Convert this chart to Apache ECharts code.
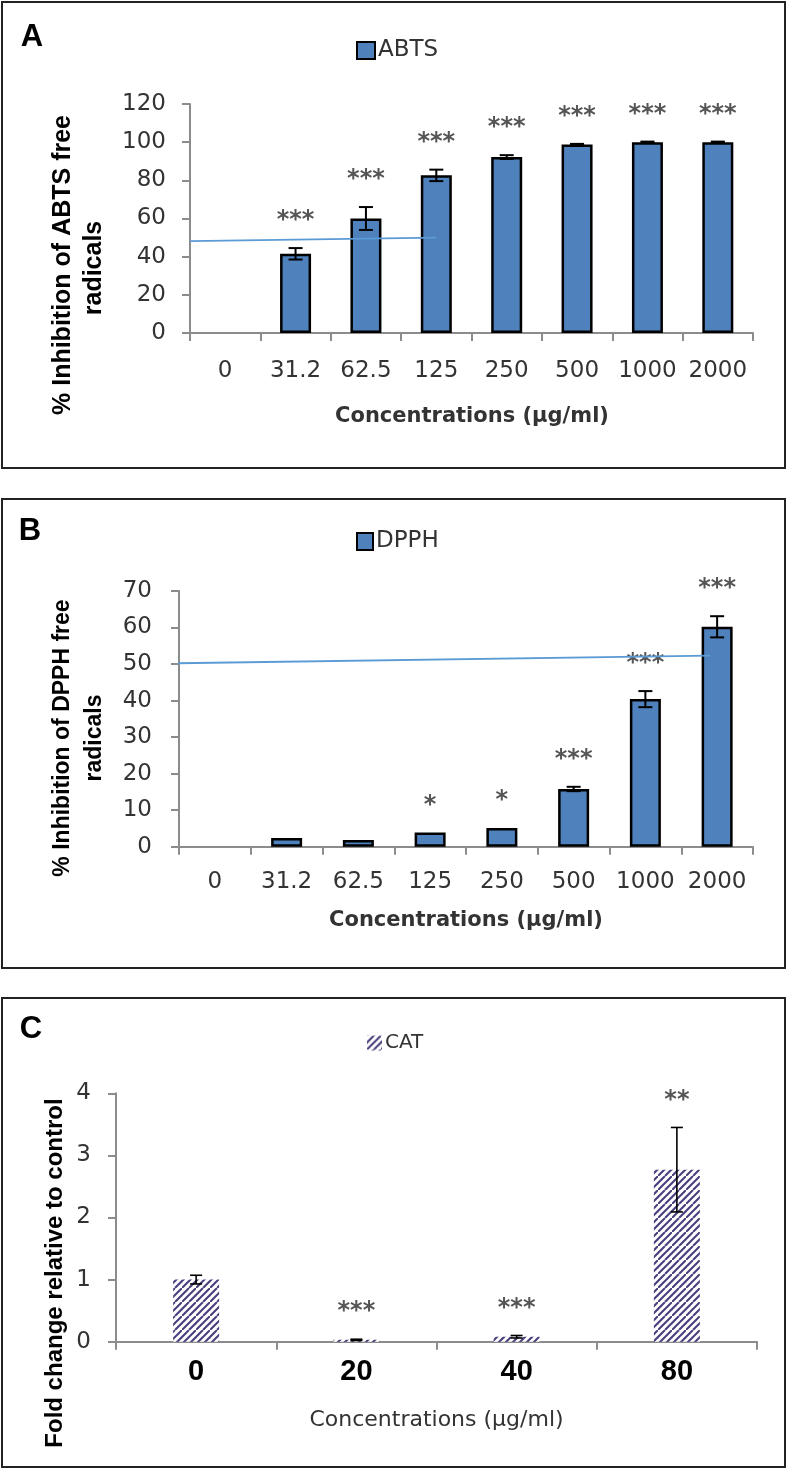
<!DOCTYPE html>
<html>
<head>
<meta charset="utf-8">
<script src="https://cdn.jsdelivr.net/npm/echarts@6/dist/echarts.min.js"></script>
<style>
html,body{margin:0;padding:0;background:#fff;}
#chart{width:788px;height:1469px;}
</style>
</head>
<body>
<div id="chart"></div>
<script>
// ---------- DATA ----------
const abCategories = ['0', '31.2', '62.5', '125', '250', '500', '1000', '2000'];
const abtsMean = [0, 41.5, 60, 82.6, 92.2, 98.8, 100, 100];
const abtsErr  = [0, 3, 6, 3, 1, 0.3, 0.3, 0.3];
const abtsSig  = ['', '***', '***', '***', '***', '***', '***', '***'];
const abtsRefLine = [[0, 48.1], [3.5, 50]];

const dpphMean = [0, 2.4, 1.8, 3.9, 5.1, 15.8, 40.4, 60.2];
const dpphErr  = [0, 0, 0, 0, 0, 0.6, 2.2, 2.9];
const dpphSig  = ['', '', '', '*', '*', '***', '***', '***'];
const dpphRefLine = [[-0.1, 50.2], [7.4, 52.3]];

const catCategories = ['0', '20', '40', '80'];
const catMean = [1.0, 0.03, 0.08, 2.77];
const catErr  = [0.07, 0.01, 0.02, 0.68];
const catSig  = ['', '***', '***', '**'];

const abtsTicks = {min: 0, max: 120, interval: 20};
const dpphTicks = {min: 0, max: 70, interval: 10};
const catTicks  = {min: 0, max: 4, interval: 1};

// ---------- STYLE ----------
const SANS = 'DejaVu Sans';
const ARIAL = '"Liberation Sans", Arial';
const AXIS_GRAY = '#8c8c8c';
const TXT = '#333333';
const BAR_BLUE = '#4F81BD';

function hatch() {
  const c = document.createElement('canvas');
  c.width = 14; c.height = 14;
  const g = c.getContext('2d');
  g.fillStyle = '#ffffff';
  g.fillRect(0, 0, 14, 14);
  g.strokeStyle = '#4a3d7c';
  g.lineWidth = 2;
  [-7, 0, 7].forEach(function (o) {
    g.beginPath();
    g.moveTo(o, 14);
    g.lineTo(o + 14, 0);
    g.stroke();
  });
  return c;
}

function errRender(sig, capHalf, lw) {
  return function (params, api) {
    const i = api.value(0), m = api.value(1), e = api.value(2);
    const top = api.coord([i, m + e]);
    const bot = api.coord([i, m - e]);
    const children = [];
    if (e > 0) {
      const st = {stroke: '#000', lineWidth: lw};
      children.push({type: 'line', shape: {x1: top[0], y1: top[1], x2: bot[0], y2: bot[1]}, style: st});
      children.push({type: 'line', shape: {x1: top[0] - capHalf, y1: top[1], x2: top[0] + capHalf, y2: top[1]}, style: st});
      children.push({type: 'line', shape: {x1: bot[0] - capHalf, y1: bot[1], x2: bot[0] + capHalf, y2: bot[1]}, style: st});
    }
    const s = sig[params.dataIndex];
    if (s) {
      children.push({type: 'text', style: {text: s, x: top[0], y: top[1] - 27, align: 'center', verticalAlign: 'middle',
        font: 'bold 24px ' + SANS, fill: '#555555'}});
    }
    return {type: 'group', children: children};
  };
}

function barData(vals) {
  return vals.map(function (v) {
    return v === 0 ? {value: v, itemStyle: {borderWidth: 0}} : {value: v};
  });
}

function catAxis(gridIndex, data, labelFont, margin) {
  return {
    type: 'category', gridIndex: gridIndex, data: data,
    axisLine: {lineStyle: {color: AXIS_GRAY, width: 2}},
    axisTick: {show: true, length: 8, lineStyle: {color: AXIS_GRAY, width: 2}},
    axisLabel: Object.assign({margin: margin, color: TXT, interval: 0}, labelFont),
    splitLine: {show: false}
  };
}
function valAxis(gridIndex, t, margin) {
  return {
    type: 'value', gridIndex: gridIndex, min: t.min, max: t.max, interval: t.interval,
    axisLine: {show: true, lineStyle: {color: AXIS_GRAY, width: 2}},
    axisTick: {show: true, length: 8, lineStyle: {color: AXIS_GRAY, width: 2}},
    axisLabel: {margin: margin, color: TXT, fontSize: 23, fontFamily: SANS},
    splitLine: {show: false}
  };
}
function hiddenX(gridIndex) {
  return {type: 'value', gridIndex: gridIndex, min: 0, max: 8, show: false};
}

const abFont = {fontSize: 23, fontFamily: SANS};
const cFont = {fontSize: 29, fontFamily: ARIAL, fontWeight: 'bold', color: '#000'};

const chart = echarts.init(document.getElementById('chart'), null, {renderer: 'canvas'});

const option = {
  animation: false,
  backgroundColor: '#fff',
  grid: [
    {left: 190, top: 104, width: 563, height: 229},
    {left: 179, top: 591, width: 574, height: 255.7},
    {left: 116, top: 1093.3, width: 641, height: 248.4}
  ],
  xAxis: [
    catAxis(0, abCategories, abFont, 27),
    catAxis(1, abCategories, abFont, 24),
    catAxis(2, catCategories, cFont, 16),
    hiddenX(0),
    hiddenX(1)
  ],
  yAxis: [
    valAxis(0, abtsTicks, 24),
    valAxis(1, dpphTicks, 27),
    valAxis(2, catTicks, 25)
  ],
  legend: [
    {data: [{name: 'ABTS', icon: 'rect'}], left: 356, top: 39, padding: 0, itemWidth: 18, itemHeight: 17, itemGap: 6, selectedMode: false,
      textStyle: {fontSize: 23, fontFamily: SANS, color: '#333', padding: [0, 0, 0, -2]}},
    {data: [{name: 'DPPH', icon: 'rect'}], left: 356, top: 530, padding: 0, itemWidth: 16, itemHeight: 17, selectedMode: false,
      textStyle: {fontSize: 23, fontFamily: SANS, color: '#333', padding: [0, 0, 0, -2]}},
    {data: [{name: 'CAT', icon: 'rect'}], left: 367, top: 1033, padding: 0, itemWidth: 15, itemHeight: 15, selectedMode: false,
      textStyle: {fontSize: 20, fontFamily: SANS, color: '#333', padding: [0, 0, 0, -2]}}
  ],
  series: [
    {name: 'ABTS', type: 'bar', xAxisIndex: 0, yAxisIndex: 0, barWidth: 31, data: barData(abtsMean),
      itemStyle: {color: BAR_BLUE, borderColor: '#000', borderWidth: 2.5}},
    {type: 'custom', xAxisIndex: 0, yAxisIndex: 0, z: 5, clip: false,
      renderItem: errRender(abtsSig, 7, 2),
      data: abtsMean.map(function (m, i) { return [i, m, abtsErr[i]]; })},
    {type: 'line', xAxisIndex: 3, yAxisIndex: 0, data: abtsRefLine, symbol: 'none', clip: false, z: 6,
      lineStyle: {color: '#5B9BD5', width: 1.8}},

    {name: 'DPPH', type: 'bar', xAxisIndex: 1, yAxisIndex: 1, barWidth: 31, data: barData(dpphMean),
      itemStyle: {color: BAR_BLUE, borderColor: '#000', borderWidth: 2.5}},
    {type: 'custom', xAxisIndex: 1, yAxisIndex: 1, z: 5, clip: false,
      renderItem: errRender(dpphSig, 7, 2),
      data: dpphMean.map(function (m, i) { return [i, m, dpphErr[i]]; })},
    {type: 'line', xAxisIndex: 4, yAxisIndex: 1, data: dpphRefLine, symbol: 'none', clip: false, z: 6,
      lineStyle: {color: '#5B9BD5', width: 1.8}},

    {name: 'CAT', type: 'bar', xAxisIndex: 2, yAxisIndex: 2, barWidth: 46, data: catMean,
      itemStyle: {color: {image: hatch(), repeat: 'repeat'}}},
    {type: 'custom', xAxisIndex: 2, yAxisIndex: 2, z: 5, clip: false,
      renderItem: errRender(catSig, 6, 1.6),
      data: catMean.map(function (m, i) { return [i, m, catErr[i]]; })}
  ],
  graphic: [
    {type: 'rect', shape: {x: 2, y: 2, width: 783, height: 466}, style: {fill: 'none', stroke: '#222', lineWidth: 2}},
    {type: 'rect', shape: {x: 2, y: 499, width: 783, height: 469}, style: {fill: 'none', stroke: '#222', lineWidth: 2}},
    {type: 'rect', shape: {x: 2, y: 998, width: 783, height: 469}, style: {fill: 'none', stroke: '#222', lineWidth: 2}},

    {type: 'text', x: 32, y: 37, style: {text: 'A', font: 'bold 31px ' + ARIAL, fill: '#000', align: 'center', verticalAlign: 'middle'}},
    {type: 'text', x: 30, y: 531, style: {text: 'B', font: 'bold 31px ' + ARIAL, fill: '#000', align: 'center', verticalAlign: 'middle'}},
    {type: 'text', x: 31, y: 1029, style: {text: 'C', font: 'bold 31px ' + ARIAL, fill: '#000', align: 'center', verticalAlign: 'middle'}},

    {type: 'text', x: 63, y: 265, rotation: Math.PI / 2,
      style: {text: '% Inhibition of ABTS free', font: 'bold 25px ' + ARIAL, fill: '#000', align: 'center', verticalAlign: 'middle'}},
    {type: 'text', x: 94, y: 268, rotation: Math.PI / 2,
      style: {text: 'radicals', font: 'bold 25px ' + ARIAL, fill: '#000', align: 'center', verticalAlign: 'middle'}},
    {type: 'text', x: 63, y: 738, rotation: Math.PI / 2,
      style: {text: '% Inhibition of DPPH free', font: 'bold 23px ' + ARIAL, fill: '#000', align: 'center', verticalAlign: 'middle'}},
    {type: 'text', x: 95, y: 738, rotation: Math.PI / 2,
      style: {text: 'radicals', font: 'bold 23px ' + ARIAL, fill: '#000', align: 'center', verticalAlign: 'middle'}},
    {type: 'text', x: 55, y: 1273, rotation: Math.PI / 2,
      style: {text: 'Fold change relative to control', font: 'bold 24px ' + ARIAL, fill: '#000', align: 'center', verticalAlign: 'middle'}},

    {type: 'text', x: 472, y: 417, style: {text: 'Concentrations (µg/ml)', font: 'bold 21px ' + SANS, fill: '#333', align: 'center', verticalAlign: 'middle'}},
    {type: 'text', x: 466, y: 921, style: {text: 'Concentrations (µg/ml)', font: 'bold 21px ' + SANS, fill: '#333', align: 'center', verticalAlign: 'middle'}},
    {type: 'text', x: 436.5, y: 1420, style: {text: 'Concentrations (µg/ml)', font: '22px ' + SANS, fill: '#333', align: 'center', verticalAlign: 'middle'}}
  ]
};
chart.setOption(option);
</script>
</body>
</html>
